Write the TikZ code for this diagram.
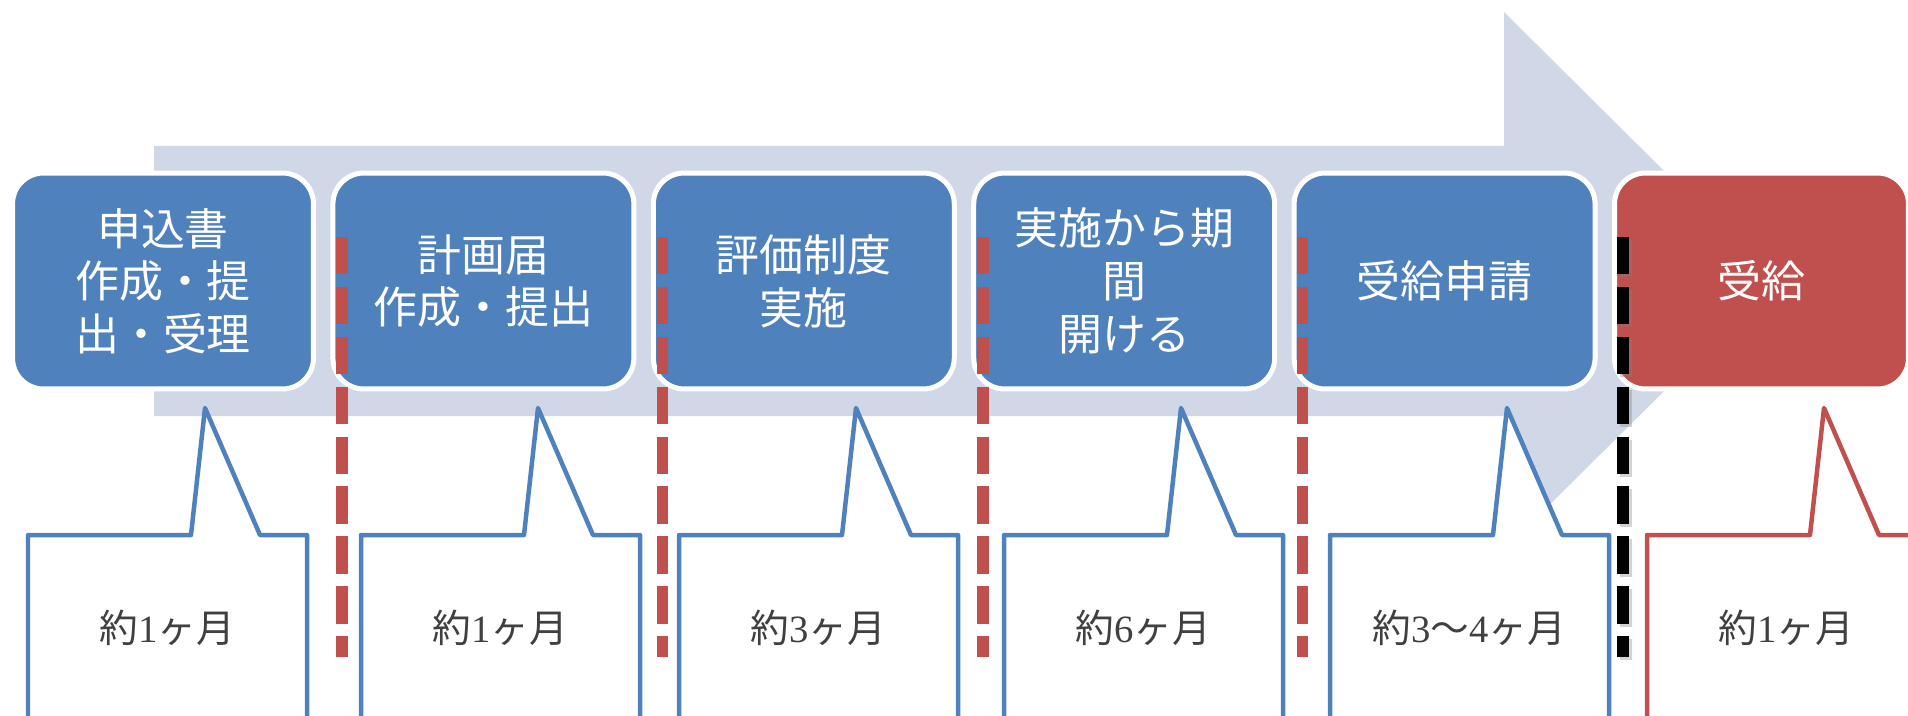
\documentclass[tikz,border=0pt]{standalone}
\usepackage{fontspec}
\setmainfont{Liberation Serif}
\newfontfamily\jp{Noto Sans CJK JP}
\definecolor{arrowgray}{RGB}{208,216,232}
\definecolor{boxblue}{RGB}{79,129,189}
\definecolor{boxred}{RGB}{192,80,77}
\definecolor{txtgray}{RGB}{64,64,64}
\begin{document}
\begin{tikzpicture}[x=0.02cm,y=-0.02cm,
  stepbox/.style={rectangle, rounded corners=0.62cm, draw=white, line width=0.1cm,
    inner sep=0pt, minimum width=6.02cm, minimum height=4.32cm, text=white,
    align=center, font=\jp\fontsize{25pt}{30pt}\selectfont},
  bluebox/.style={stepbox, fill=boxblue},
  redbox/.style={stepbox, fill=boxred, minimum width=5.88cm},
  callout/.style={fill=white, line width=0.09cm, line join=round},
  bluecallout/.style={callout, draw=boxblue},
  redcallout/.style={callout, draw=boxred},
  durtext/.style={text=txtgray, font=\fontsize{22pt}{26pt}\selectfont, inner sep=0pt},
  sepline/.style={line width=6.3pt, dash pattern=on 21.3pt off 7.1pt},
  sepred/.style={sepline, draw=boxred},
  sepblack/.style={sepline, draw=black}]
\useasboundingbox (0,0) rectangle (1908,716);
\clip (0,0) rectangle (1908,716);
% big background arrow
\fill[arrowgray] (154,146) -- (1504,146) -- (1504,12) -- (1775,281) -- (1504,550) -- (1504,416) -- (154,416) -- cycle;
% step boxes
\node[bluebox] (b1) at (163,281) {{\jp 申込書}\\{\jp 作成・提}\\{\jp 出・受理}};
\node[bluebox] (b2) at (483.4,281) {計画届\\作成・提出};
\node[bluebox] (b3) at (803.8,281) {評価制度\\実施};
\node[bluebox] (b4) at (1124.2,281) {実施から期\\間\\開ける};
\node[bluebox] (b5) at (1444.6,281) {受給申請};
\node[redbox] (b6) at (1761.5,281) {受給};
% callouts
\foreach \L in {28,361,679,1004,1330} {
  \draw[bluecallout] (\L,535) -- ++(163,0) -- ++(14,-127) -- ++(55,127) -- ({\L+279},535) -- ({\L+279},740) -- (\L,740) -- cycle;
}
\draw[redcallout] (1647,535) -- ++(163,0) -- ++(14,-127) -- ++(55,127) -- (1926,535) -- (1926,740) -- (1647,740) -- cycle;
\node[durtext] (t1) at (167.5,628) {{\jp 約}1{\jp ヶ月}};
\node[durtext] (t2) at (500.5,628) {{\jp 約}1{\jp ヶ月}};
\node[durtext] (t3) at (818.5,628) {{\jp 約}3{\jp ヶ月}};
\node[durtext] (t4) at (1143.5,628) {{\jp 約}6{\jp ヶ月}};
\node[durtext] (t5) at (1469.5,628) {{\jp 約}3{\jp 〜}4{\jp ヶ月}};
\node[durtext] (t6) at (1786.5,628) {{\jp 約}1{\jp ヶ月}};
% separators
\foreach \x in {342,662.5,983,1302.5} {
  \draw[sepred] (\x,237) -- (\x,657);
}
\draw[sepblack, draw=gray, opacity=0.35] (1626,240) -- (1626,660);
\draw[sepblack] (1623,237) -- (1623,657);
\end{tikzpicture}
\end{document}
